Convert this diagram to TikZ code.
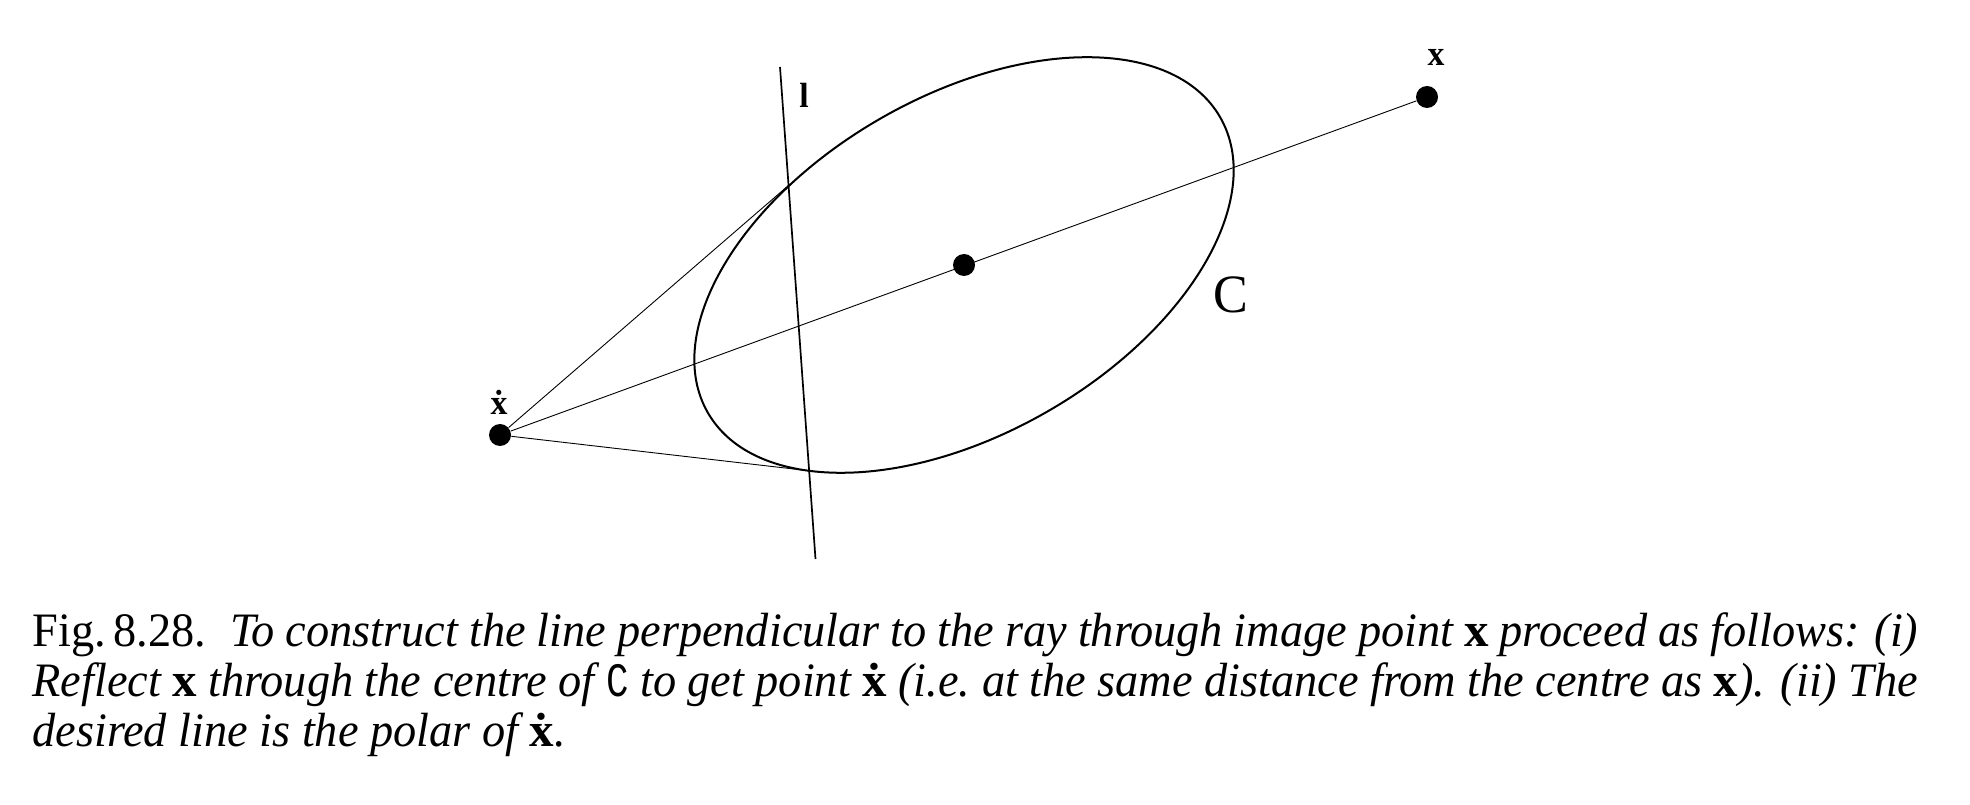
\documentclass[tikz,border=0pt]{standalone}
\usepackage{fontspec}
\setmainfont{Liberation Serif}[FakeStretch=0.965]
\setmonofont{Liberation Mono}[FakeStretch=0.78]
\newfontfamily\boldxfont{Liberation Serif Bold}[FakeStretch=1.02]
\usepackage{xcolor}
\usetikzlibrary{positioning}
\newcommand{\bx}{{\upshape\boldxfont x}}
\newcommand{\bxdot}{{\upshape\boldxfont\.{x}}}
\tikzset{
  dotpt/.style={circle, fill=black, minimum size=11pt, inner sep=0pt},
  conicline/.style={draw, line width=1pt},
  polarline/.style={draw, line width=0.85pt},
  rayline/.style={draw, line width=0.45pt},
  figlabel/.style={font=\fontsize{17.5}{20}\selectfont\bfseries, inner sep=0pt},
  caption/.style={font=\fontsize{24}{25.2}\selectfont, text width=943pt, align=justify, inner sep=0pt, anchor=north west}
}
\begin{document}
\begin{tikzpicture}[x=0.5pt,y=0.5pt]
  \useasboundingbox (0,0) rectangle (1970,804);
  % conic and its centre
  \node[dotpt] (cntr) at (964,539) {};
  \draw[conicline, rotate around={30:(cntr)}] (cntr) ellipse [x radius=295.7, y radius=168.6];

  \node[dotpt] (xpt) at (1427,707) {};
  \node[dotpt] (xdotpt) at (500,369) {};
  \node[figlabel] (xlab) at (1436,747) {x};
  \node[figlabel] (xdotlab) at (499,402) {\.{x}};

  % polar of the reflected point
  \coordinate (ltop) at (780,737);
  \coordinate (lbot) at (815.5,245);
  \coordinate (tanA) at (789,619);
  \coordinate (tanB) at (811,333);
  \draw[polarline] (ltop) -- (lbot);
  \draw[rayline] (xdotpt) -- (xpt);
  \draw[rayline] (xdotpt) -- (tanA);
  \draw[rayline] (xdotpt) -- (tanB);
  \node[figlabel] (llab) at (804,709) {l};
  \node[font=\fontsize{27}{28}\selectfont, inner sep=0pt] (clab) at (1231,509) {C};

  \node[caption] (figcap) at (32,192) {Fig.\,8.28.\enspace\itshape To construct the line perpendicular to the ray through image point \bx{} proceed as follows: (i)\linebreak
  Reflect \bx{} through the centre of {\upshape\ttfamily C} to get point \bxdot{} (i.e.\ at the same distance from the centre as \bx). (ii) The\linebreak
  desired line is the polar of \bxdot.\par};
\end{tikzpicture}
\end{document}
